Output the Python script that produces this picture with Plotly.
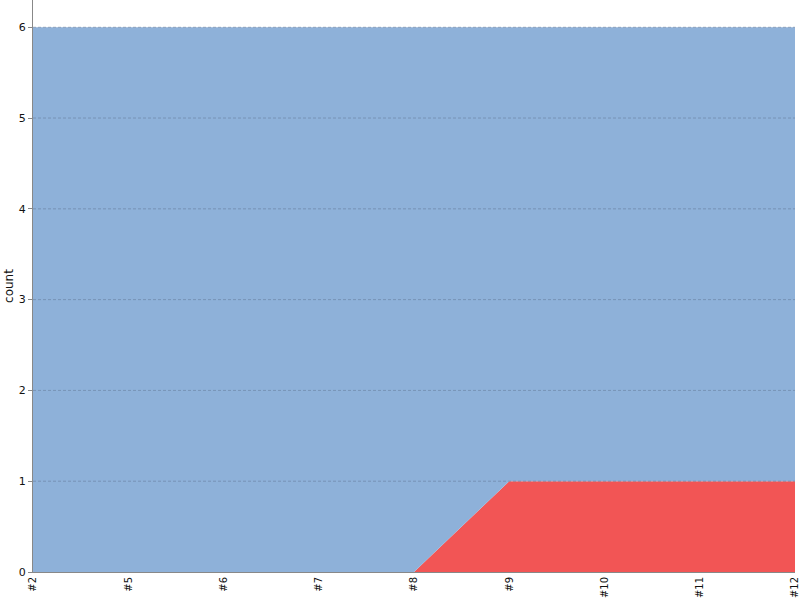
import plotly.graph_objects as go

categories = ["#2", "#5", "#6", "#7", "#8", "#9", "#10", "#11", "#12"]
red_values = [0, 0, 0, 0, 0, 1, 1, 1, 1]
blue_values = [6, 6, 6, 6, 6, 5, 5, 5, 5]
y_ticks = [0, 1, 2, 3, 4, 5, 6]

fig = go.Figure()
fig.add_trace(go.Scatter(x=categories, y=red_values, stackgroup="s", mode="none",
                         fillcolor="#F25555", name="red", hoverinfo="x+y"))
fig.add_trace(go.Scatter(x=categories, y=blue_values, stackgroup="s", mode="none",
                         fillcolor="#8EB1D9", name="blue", hoverinfo="x+y"))

# dotted gridlines drawn above the filled areas
for t in y_ticks[1:]:
    fig.add_shape(type="line", xref="paper", x0=0, x1=1, yref="y", y0=t, y1=t,
                  line=dict(color="rgba(90,110,140,0.45)", width=1, dash="3px,2px"),
                  layer="above")

fig.update_layout(
    width=800, height=600,
    margin=dict(l=33, r=5, t=0, b=28),
    paper_bgcolor="white", plot_bgcolor="white",
    showlegend=False,
    font=dict(family="DejaVu Sans", size=11, color="#111"),
    xaxis=dict(type="category", range=[0, len(categories) - 1], tickangle=-90,
               showgrid=False, showline=True, linecolor="#888", linewidth=1,
               ticks="", tickfont=dict(size=10),
               zeroline=False, layer="above traces", automargin=False),
    yaxis=dict(range=[0, 6.3], tickvals=y_ticks, showgrid=False,
               showline=True, linecolor="#888", linewidth=1,
               ticks="outside", ticklen=4, tickcolor="#888", tickfont=dict(size=11),
               title=dict(text="count", font=dict(size=12), standoff=2),
               zeroline=False, layer="above traces", automargin=False),
)

fig.write_html("out.html", config={"displayModeBar": False},
               post_script="document.body.style.margin='0';")
